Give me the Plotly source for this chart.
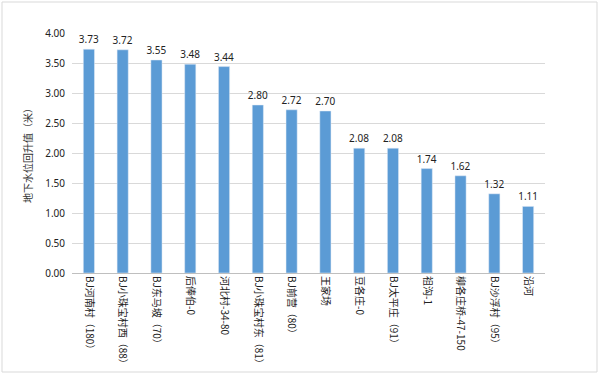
import plotly.graph_objects as go

categories = ["BJ河南村（180）", "BJ小珠宝村西（88）", "BJ东马坡（70）", "后俸伯-0",
              "河北村-34-80", "BJ小珠宝村东（81）", "BJ前营（80）", "王家场",
              "豆各庄-0", "BJ太平庄（91）", "祖沟-1", "柳各庄桥-47-150",
              "BJ沙浮村（95）", "沿河"]
values = [3.73, 3.72, 3.55, 3.48, 3.44, 2.80, 2.72, 2.70, 2.08, 2.08, 1.74, 1.62, 1.32, 1.11]
y_ticks = [0, 0.5, 1.0, 1.5, 2.0, 2.5, 3.0, 3.5, 4.0]
y_title = "地下水位回升值（米）"

font_cjk = "Noto Sans CJK SC, Noto Sans, sans-serif"
L, R, T, B = 72, 55, 33, 102
pw, ph = 600 - L - R, 375 - T - B

fig = go.Figure(go.Bar(
    x=categories, y=values,
    marker=dict(color="#5B9BD5"),
    width=0.33,
    text=[f"{v:.2f}" for v in values],
    textposition="outside",
    constraintext="none",
    textfont=dict(size=10, color="#222222", family="Noto Sans, sans-serif"),
    cliponaxis=False,
))

fig.update_layout(
    width=600, height=375,
    margin=dict(l=L, r=R, t=T, b=B),
    paper_bgcolor="white", plot_bgcolor="white",
    showlegend=False,
    font=dict(family=font_cjk, size=10, color="#333333"),
    yaxis=dict(
        range=[0, 4], tickvals=y_ticks, tickformat=".2f", automargin=False,
        showgrid=True, gridcolor="#D9D9D9", gridwidth=1,
        zeroline=True, zerolinecolor="#BFBFBF", zerolinewidth=1,
        showline=False, ticks="", ticklabelstandoff=6,
        tickfont=dict(size=10, color="#222222", family="Noto Sans, sans-serif"),
    ),
    xaxis=dict(
        tickangle=90, showline=True, linecolor="#BFBFBF", linewidth=1, automargin=False,
        ticks="", tickfont=dict(size=10, color="#222222", family=font_cjk),
    ),
    annotations=[dict(text=y_title, xref="paper", yref="paper",
                      x=(27 - L) / pw, y=0.5, textangle=-90, showarrow=False,
                      font=dict(size=10, color="#333333", family=font_cjk),
                      xanchor="center", yanchor="middle")],
    shapes=[dict(type="rect", xref="paper", yref="paper",
                 x0=(2 - L) / pw, x1=(597 - L) / pw,
                 y0=(375 - B - 372) / ph, y1=(375 - B - 2) / ph,
                 line=dict(color="#D9D9D9", width=1), fillcolor="rgba(0,0,0,0)", layer="below")],
)

fig.write_html("out.html", config={"displayModeBar": False},
               post_script="document.body.style.margin='0';")
